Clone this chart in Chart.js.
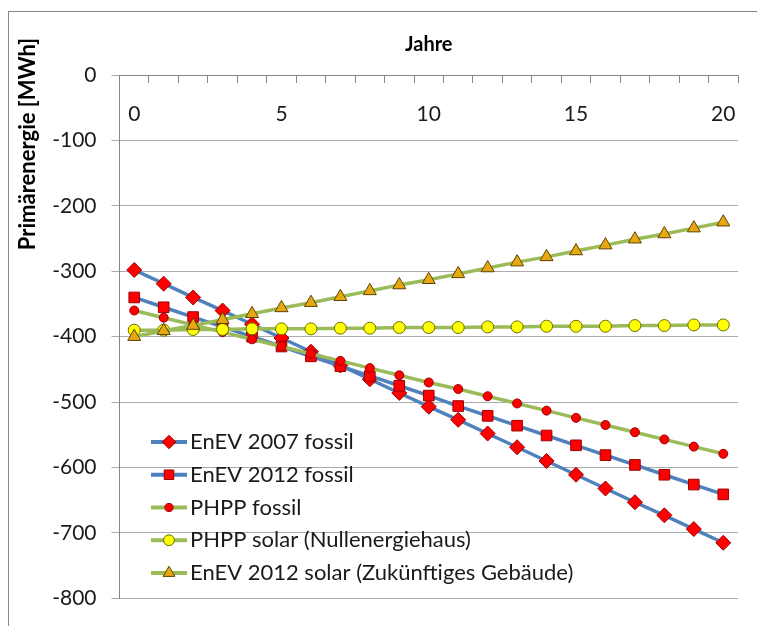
<!DOCTYPE html>
<html><head><meta charset="utf-8">
<script src="https://cdn.jsdelivr.net/npm/chart.js"></script>
<style>html,body{margin:0;padding:0;background:#fff;}canvas{display:block;}</style>
</head><body>
<canvas id="c" width="757" height="626"></canvas>
<script>
// ---- data ----
const years = ['0','1','2','3','4','5','6','7','8','9','10','11','12','13','14','15','16','17','18','19','20'];
const enev2007Fossil = [-298,-319,-340,-360,-381,-402,-423,-444,-465,-486,-507,-527,-548,-569,-590,-611,-632,-653,-673,-694,-715];
const enev2012Fossil = [-340,-355,-370,-385,-400,-415,-430,-445,-460,-475,-490,-506,-521,-536,-551,-566,-581,-596,-611,-626,-641];
const phppFossil     = [-360,-371,-382,-393,-404,-415,-426,-437,-448,-459,-470,-480,-491,-502,-513,-524,-535,-546,-557,-568,-579];
const phppSolar      = [-390,-390,-389,-389,-388,-388,-388,-387,-387,-386,-386,-386,-385,-385,-384,-384,-384,-383,-383,-382,-382];
const enev2012Solar  = [-400,-391,-383,-374,-365,-356,-348,-339,-330,-321,-313,-304,-295,-286,-278,-269,-260,-251,-243,-234,-225];
const seriesNames = ['EnEV 2007 fossil','EnEV 2012 fossil','PHPP fossil','PHPP solar (Nullenergiehaus)','EnEV 2012 solar (Zukünftiges Gebäude)'];
const xTitle = 'Jahre';
const yTitle = 'Primärenergie [MWh]';
const yMin = -800, yMax = 0, yStep = 100;

const FONT = 'Lato, "Open Sans", sans-serif';
const BLUE = '#4F81BD', GREEN = '#9BBB59';

function ds(label, data, color, style, radius, fill, border, order) {
  return {label, data, borderColor: color, backgroundColor: color, borderWidth: 3.5,
    pointStyle: style, pointRadius: radius, pointHoverRadius: radius,
    pointBackgroundColor: fill, pointBorderColor: border, pointBorderWidth: 1,
    tension: 0, fill: false, order};
}

const datasets = [
  ds(seriesNames[0], enev2007Fossil, BLUE, 'rectRot', 7.5, '#FF0000', '#9C0000', 4),
  ds(seriesNames[1], enev2012Fossil, BLUE, 'rect', 7.5, '#FF0000', '#9C0000', 3),
  ds(seriesNames[2], phppFossil, GREEN, 'circle', 4.5, '#FF0000', '#9C0000', 2),
  ds(seriesNames[3], phppSolar, GREEN, 'circle', 6, '#FFFF00', '#6B6B00', 1),
  ds(seriesNames[4], enev2012Solar, GREEN, 'triangle', 7.5, '#E5A811', '#5E4200', 0)
];

function marker(ctx, style, r, x, y) {
  ctx.beginPath();
  if (style === 'rectRot') {
    ctx.moveTo(x, y - r); ctx.lineTo(x + r, y); ctx.lineTo(x, y + r); ctx.lineTo(x - r, y); ctx.closePath();
  } else if (style === 'rect') {
    const s = r * Math.SQRT1_2; ctx.rect(x - s, y - s, 2 * s, 2 * s);
  } else if (style === 'triangle') {
    for (let k = 0; k < 3; k++) {
      const a = k * 2 * Math.PI / 3;
      const px = x + Math.sin(a) * r, py = y - Math.cos(a) * r;
      if (k === 0) ctx.moveTo(px, py); else ctx.lineTo(px, py);
    }
    ctx.closePath();
  } else {
    ctx.arc(x, y, r, 0, Math.PI * 2);
  }
  ctx.fill(); ctx.stroke();
}

const decor = {
  id: 'decor',
  beforeDraw(chart) {
    const ctx = chart.ctx;
    ctx.save();
    ctx.strokeStyle = '#868686'; ctx.lineWidth = 1;
    ctx.strokeRect(8.5, 11.5, 800, 700);
    ctx.restore();
  },
  afterDraw(chart) {
    const ctx = chart.ctx;
    ctx.save();
    // y axis title
    ctx.translate(28, 144);
    ctx.rotate(-Math.PI / 2);
    ctx.font = 'bold 22px ' + FONT;
    ctx.fillStyle = '#000';
    ctx.textAlign = 'center'; ctx.textBaseline = 'middle';
    ctx.fillText(yTitle, 0, 0);
    ctx.restore();
    // legend
    ctx.save();
    chart.data.datasets.forEach((d, i) => {
      const y = 442 + i * 32.75;
      ctx.strokeStyle = d.borderColor; ctx.lineWidth = 4;
      ctx.beginPath(); ctx.moveTo(151, y); ctx.lineTo(187, y); ctx.stroke();
      ctx.fillStyle = d.pointBackgroundColor; ctx.strokeStyle = d.pointBorderColor; ctx.lineWidth = 1;
      marker(ctx, d.pointStyle, d.pointRadius * 0.9, 169, y);
      ctx.fillStyle = '#1a1a1a';
      ctx.font = '22px ' + FONT;
      ctx.textAlign = 'left'; ctx.textBaseline = 'middle';
      ctx.fillText(d.label, 190, y);
    });
    ctx.restore();
  }
};

new Chart(document.getElementById('c'), {
  type: 'line',
  data: {labels: years, datasets},
  options: {
    responsive: false, animation: false, devicePixelRatio: 1,
    layout: {padding: {left: 0, right: 19, top: 0, bottom: 22}},
    plugins: {
      legend: {display: false}, tooltip: {enabled: false},
      title: {display: true, text: xTitle, fullSize: false, align: 'center',
        color: '#000', font: {family: FONT, size: 20, weight: 'bold', lineHeight: 1.2},
        padding: {top: 33, bottom: 18}}
    },
    scales: {
      x: {
        type: 'category', position: {y: 0}, offset: true,
        grid: {display: true, drawOnChartArea: false, drawTicks: true, tickLength: 7, color: '#868686', offset: true},
        border: {display: true, color: '#868686', width: 1},
        ticks: {autoSkip: false, maxRotation: 0, padding: 20, color: '#1a1a1a',
          font: {family: FONT, size: 21, lineHeight: 1.2},
          callback: (v, i) => (i % 5 === 0 ? years[i] : '')}
      },
      y: {
        min: yMin, max: yMax, position: 'left',
        afterFit: (s) => { s.width = 119.5; },
        grid: {color: '#ABABAB', tickLength: 8, drawTicks: true},
        border: {display: true, color: '#868686', width: 1},
        ticks: {stepSize: yStep, padding: 15, color: '#1a1a1a', font: {family: FONT, size: 21}}
      }
    }
  },
  plugins: [decor]
});
</script>
</body></html>
